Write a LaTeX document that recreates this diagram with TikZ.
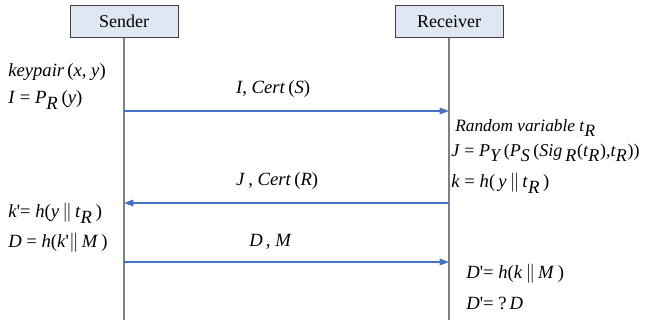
\documentclass[tikz,border=0pt]{standalone}
\usepackage{fontspec}
\setmainfont{Liberation Serif}
\usetikzlibrary{arrows.meta}

\newcommand{\vv}[1]{\textit{#1}}
\newcommand{\pr}{\textquotesingle}

\begin{document}
\begin{tikzpicture}[x=0.75pt, y=-0.75pt, >={Triangle[length=7pt,width=5pt]}]

	\definecolor{msgblue}{RGB}{68,114,196}
	\definecolor{boxfill}{RGB}{222,231,242}

	\tikzset{
		party/.style={draw=black!75, fill=boxfill, minimum width=81pt, minimum height=24pt, font=\fontsize{13.5}{15}\selectfont},
		lifeline/.style={draw=black!50, line width=1.5pt},
		msg/.style={->, draw=msgblue, fill=msgblue, line width=0.9pt},
		note/.style={anchor=west, inner sep=0pt, font=\fontsize{14}{16}\selectfont},
		lbl/.style={midway, font=\fontsize{14}{16}\selectfont}
	}

	\useasboundingbox (0,0) rectangle (649,320);

	% parties
	\node[party] (S) at (124,21.5) {Sender};
	\node[party] (R) at (449,21.5) {Receiver};

	\coordinate (Send) at (124,320);
	\coordinate (Rend) at (449,320);

	% lifelines
	\draw[lifeline] (S.south) -- (Send);
	\draw[lifeline] (R.south) -- (Rend);

	% message points
	\coordinate (S1) at (124,111);
	\coordinate (R1) at (449,111);
	\coordinate (S2) at (124,203);
	\coordinate (R2) at (449,203);
	\coordinate (S3) at (124,262);
	\coordinate (R3) at (449,262);

	% messages
	\draw[msg] (S1) -- (R1) node[lbl, above=6pt, xshift=-10pt] {\vv{I}, \vv{Cert}\,(\vv{S})};
	\draw[msg] (R2) -- (S2) node[lbl, above=6pt, xshift=-7pt] {\vv{J}\,, \vv{Cert}\,(\vv{R})};
	\draw[msg] (S3) -- (R3) node[lbl, above=6pt, xshift=-12pt] {\vv{D}\,, \vv{M}};

	% sender side
	\node[note] (kp) at (8,72) {\vv{keypair}\,(\vv{x}, \vv{y})};
	\node[note] (I) at (8,100) {\vv{I} = \vv{P}$_{\vv{R}}$\,(\vv{y})};
	\node[note] (kS) at (8,213) {\vv{k}\pr= \vv{h}(\vv{y}\,$\|$\,\vv{t}$_{\vv{R}}$\,)};
	\node[note] (D) at (8,243) {\vv{D} = \vv{h}(\vv{k}\pr$\|$\,\vv{M}\,)};

	% receiver side
	\node[note, font=\fontsize{13}{15}\selectfont] (tR) at (455,128) {\vv{Random variable t}$_{\vv{R}}$};
	\node[note, font=\fontsize{13.5}{15}\selectfont] (J) at (451,153) {\vv{J} = \vv{P}$_{\vv{Y}}$\,(\vv{P}$_{\vv{S}}$\,(\vv{Sig}\,$_{\vv{R}}$(\vv{t}$_{\vv{R}}$),\vv{t}$_{\vv{R}}$))};
	\node[note] (kR) at (451,183) {\vv{k} = \vv{h}(\,\vv{y}\,$\|$\,\vv{t}$_{\vv{R}}$\,)};
	\node[note] (D1) at (466,274) {\vv{D}\pr= \vv{h}(\vv{k}\,$\|$\,\vv{M}\,)};
	\node[note] (D2) at (466,303) {\vv{D}\pr= ?\,\vv{D}};

\end{tikzpicture}
\end{document}
